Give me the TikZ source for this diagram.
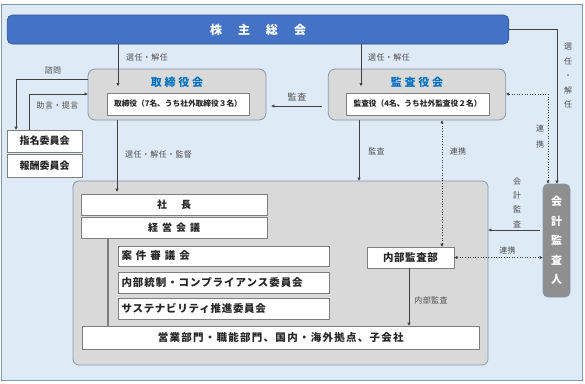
\documentclass[tikz,border=0pt]{standalone}
\usepackage{fontspec}
\setmainfont{Noto Sans CJK JP}
\usetikzlibrary{arrows.meta}
\definecolor{bgblue}{HTML}{DEEBF7}
\definecolor{frame}{HTML}{8497B0}
\definecolor{barblue}{HTML}{4472C4}
\definecolor{bardark}{HTML}{2F528F}
\definecolor{boxgray}{HTML}{D9D9D9}
\definecolor{titleblue}{HTML}{0070C0}
\definecolor{linegray}{HTML}{404040}
\definecolor{labgray}{HTML}{4D4D4D}
\definecolor{dkgray}{HTML}{8F8F8F}
\definecolor{wborder}{HTML}{7F7F7F}
\definecolor{txt}{HTML}{262626}
\begin{document}
\begin{tikzpicture}[x=1pt,y=-1pt,
  grp/.style={draw=frame, fill=boxgray, rounded corners=7pt, line width=0.8pt},
  wbox/.style={draw=wborder, fill=white, line width=0.6pt, inner sep=0pt, text=txt},
  lab/.style={font=\fontsize{8}{9}\selectfont\addfontfeature{LetterSpace=5}, text=labgray, inner sep=0pt},
  vlab/.style={font=\fontsize{8}{14.5}\selectfont, text=labgray, inner sep=0pt, align=center},
  arr/.style={draw=linegray, line width=0.6pt, -{Triangle[length=3pt,width=3pt]}},
  dlink/.style={draw=linegray, line width=0.6pt, dotted, {Triangle[length=3pt,width=3pt]}-{Triangle[length=3pt,width=3pt]}},
  bigtxt/.style={font=\fontsize{10.5}{12}\selectfont\bfseries},
]
\useasboundingbox (0,0) rectangle (585,383);
\fill[bgblue, draw=frame, line width=0.8pt] (1.5,4) rectangle (582,380);

% shareholders
\node[draw=bardark, fill=barblue, rounded corners=5pt, line width=0.6pt, minimum width=501.5pt, minimum height=29pt, inner sep=0pt,
  text=white, font=\fontsize{12}{14}\selectfont\bfseries] (sh) at (258,29.5) {株\hspace{16pt}主\hspace{16pt}総\hspace{16pt}会};

% board of directors
\node[grp, minimum width=178pt, minimum height=51pt] (tb) at (177,94.5) {};
\node[text=titleblue, font=\fontsize{11}{13}\selectfont\bfseries, inner sep=0pt] (tbt) at (177,82.5) {取\hspace{2.7pt}締\hspace{2.7pt}役\hspace{2.7pt}会};
\node[wbox, minimum width=142pt, minimum height=22pt, font=\fontsize{7.7}{9}\selectfont\bfseries] (tbi) at (178,104) {取締役（7名、うち社外取締役３名）};

% audit board
\node[grp, minimum width=177.5pt, minimum height=51pt] (ka) at (417,94.5) {};
\node[text=titleblue, font=\fontsize{11}{13}\selectfont\bfseries, inner sep=0pt] (kat) at (417,82.5) {監\hspace{2.7pt}査\hspace{2.7pt}役\hspace{2.7pt}会};
\node[wbox, minimum width=143pt, minimum height=22pt, font=\fontsize{7.7}{9}\selectfont\bfseries] (kai) at (417.5,104) {監査役（4名、うち社外監査役２名）};

% committees
\node[wbox, minimum width=75pt, minimum height=22pt, font=\fontsize{10}{12}\selectfont\bfseries] (sim) at (44.5,141) {指名委員会};
\node[wbox, minimum width=75pt, minimum height=23pt, font=\fontsize{10}{12}\selectfont\bfseries] (hou) at (44.5,165.5) {報酬委員会};

% executive area
\node[grp, rounded corners=6pt, minimum width=415pt, minimum height=184pt] (main) at (280.5,273) {};
\node[wbox, minimum width=186pt, minimum height=21.5pt, font=\fontsize{10}{12}\selectfont\bfseries] (pres) at (174,204.75) {社\hspace{14pt}長};
\node[wbox, minimum width=186pt, minimum height=21.5pt, font=\fontsize{10}{12}\selectfont\bfseries] (mtg) at (174,227.75) {経\hspace{4pt}営\hspace{4pt}会\hspace{4pt}議};
\node[wbox, minimum width=211pt, minimum height=20pt, text width=204pt, inner xsep=3.5pt, align=left, bigtxt] (ank) at (223.5,256) {案\hspace{4pt}件\hspace{4pt}審\hspace{4pt}議\hspace{4pt}会};
\node[wbox, minimum width=211pt, minimum height=21pt, text width=204pt, inner xsep=3.5pt, align=left, bigtxt] (nai) at (223.5,282.5) {\addfontfeature{LetterSpace=9}内部統制・コンプライアンス委員会};
\node[wbox, minimum width=211pt, minimum height=21pt, text width=204pt, inner xsep=3.5pt, align=left, bigtxt] (sus) at (223.5,308.5) {\addfontfeature{LetterSpace=7}サステナビリティ推進委員会};
\node[wbox, minimum width=396.5pt, minimum height=23pt, bigtxt] (eig) at (280.75,337.5) {\addfontfeature{LetterSpace=12}営業部門・職能部門、国内・海外拠点、子会社};
\node[wbox, minimum width=87pt, minimum height=21pt, bigtxt] (nbk) at (410.5,257.5) {\addfontfeature{LetterSpace=5}内部監査部};

% accounting auditor
\node[draw=frame, fill=dkgray, rounded corners=5pt, line width=0.8pt, minimum width=27pt, minimum height=113pt, inner sep=0pt,
  text=white, align=center, font=\fontsize{11}{19.5}\selectfont\bfseries] (kai2) at (556.5,240.5) {会\\計\\監\\査\\人};

% helper coordinates
\coordinate (t1) at (118,86);
\coordinate (t2) at (361,86);
\coordinate (c106) at (0,106);
\coordinate (c117) at (117,0);
\coordinate (c359) at (359,0);
\coordinate (c442) at (442,0);
\coordinate (c79) at (0,79);
\coordinate (c16) at (16,0);
\coordinate (c29) at (29,0);
\coordinate (c94) at (0,94);
\coordinate (c557) at (557,0);
\coordinate (c548) at (548,0);
\coordinate (c230) at (0,230);
\coordinate (c409) at (409,0);
\coordinate (c108) at (108,0);

% connectors
\draw[arr] (sh.south -| t1) -- (t1);
\draw[arr] (sh.south -| t2) -- (t2);
\draw[arr, shorten <=6pt, shorten >=5pt] (ka.west |- c106) -- (tb.east |- c106);
\draw[arr, shorten >=2pt] (tb.south -| c117) -- (pres.north -| c117);
\draw[arr] (ka.south -| c359) -- (main.north -| c359);
\draw[dlink] (ka.south -| c442) -- (nbk.north -| c442);
\draw[arr] (tb.west |- c79) -| (sim.north -| c16);
\draw[arr] (sim.north -| c29) |- (tb.west |- c94);
\draw[arr] (sh.east) -| (kai2.north -| c557);
\draw[dlink] (ka.east |- c94) -| (kai2.north -| c548);
\draw[arr, shorten <=3pt] (kai2.west |- c230) -- (main.east |- c230);
\draw[dlink] (nbk.east) -- (kai2.west |- nbk.east);
\draw[arr] (nbk.south -| c409) -- (eig.north -| c409);
\draw[draw=wborder, line width=1.2pt] (mtg.south -| c108) -- (eig.north -| c108);

% labels
\node[lab, anchor=west] (l1) at (126,57) {選任・解任};
\node[lab, anchor=west] (l2) at (368,57) {選任・解任};
\node[text=labgray, font=\fontsize{9}{11}\selectfont\addfontfeature{LetterSpace=10}, inner sep=0pt] (l3) at (297,97) {監査};
\node[lab] (l4) at (53,70) {諮問};
\node[lab] (l5) at (57.5,105) {助言・提言};
\node[lab, anchor=west] (l6) at (125,154) {選任・解任・監督};
\node[lab] (l7) at (376.5,151) {監査};
\node[lab] (l8) at (458,151) {連携};
\node[lab] (l9) at (431,300) {内部監査};
\node[lab] (l10) at (507.5,250) {連携};
\node[vlab, font=\fontsize{8}{16}\selectfont] (l11) at (540,136) {連\\携};
\node[vlab, font=\fontsize{8}{14.3}\selectfont] (l12) at (517,202.5) {会\\計\\監\\査};
\node[vlab] (l13) at (568,76) {選\\任\\・\\解\\任};
\end{tikzpicture}
\end{document}
